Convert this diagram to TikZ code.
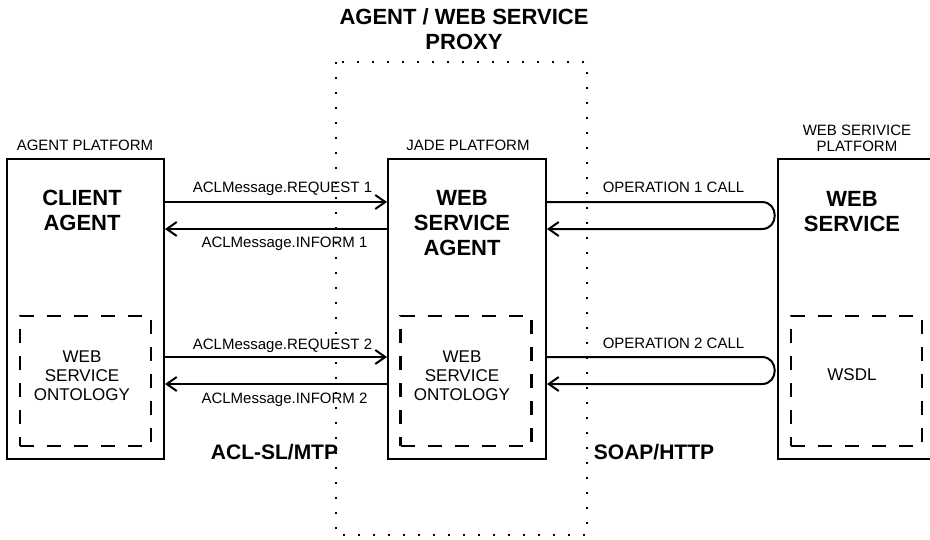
\documentclass[tikz,border=0pt]{standalone}
\usepackage{fontspec}
\setmainfont{Liberation Sans}
\usetikzlibrary{arrows.meta,calc}
\begin{document}
\begin{tikzpicture}[x=1pt,y=-1pt,
  mainbox/.style={draw,line width=2pt,minimum width=157pt,minimum height=300pt,inner sep=0pt},
  dashbox/.style={draw,line width=2.5pt,dash pattern=on 14pt off 13pt,minimum width=131pt,minimum height=130pt,inner sep=0pt},
  bigtxt/.style={font=\fontsize{22}{25}\selectfont\bfseries,align=center,inner sep=0pt},
  midtxt/.style={font=\fontsize{17}{19}\selectfont,align=center,inner sep=0pt},
  smalltxt/.style={font=\fontsize{15}{16}\selectfont,align=center,inner sep=0pt},
  lbl/.style={font=\fontsize{15}{16}\selectfont,anchor=base,inner sep=0pt},
  proto/.style={font=\fontsize{21}{24}\selectfont\bfseries,anchor=base,inner sep=0pt},
  msg/.style={line width=2pt,-{Straight Barb[length=10pt,width=14pt]}},
  proxyline/.style={line width=2.2pt,dash pattern=on 2.2pt off 12.8pt}
]
\clip (0,0) rectangle (930,539);
% proxy region
\draw[proxyline] (336,62) rectangle (587,535);
\node[bigtxt] (title) at (464,29.5) {AGENT / WEB SERVICE\\PROXY};
% main boxes
\node[mainbox] (client) at (85.5,309) {};
\node[mainbox,minimum width=158pt] (wsa) at (467,309) {};
\node[mainbox,minimum width=160pt] (ws) at (858,309) {};
% dashed boxes
\node[dashbox] (ont1) at (85.5,381) {};
\node[dashbox] (ont2) at (466,381) {};
\node[dashbox] (wsdl) at (856.5,381) {};
% box texts
\node[bigtxt] (clientt) at (82,210.5) {CLIENT\\AGENT};
\node[bigtxt] (wsat) at (462,223) {WEB\\SERVICE\\AGENT};
\node[bigtxt] (wst) at (852,211.5) {WEB\\SERVICE};
\node[midtxt] (ont1t) at (82,376) {WEB\\SERVICE\\ONTOLOGY};
\node[midtxt] (ont2t) at (462,376) {WEB\\SERVICE\\ONTOLOGY};
\node[midtxt] (wsdlt) at (852,375) {WSDL};
% platform labels
\node[smalltxt] (p1) at (85,145) {AGENT PLATFORM};
\node[smalltxt] (p2) at (468,145) {JADE PLATFORM};
\node[smalltxt] (p3) at (857,138) {WEB SERIVICE\\PLATFORM};
% rows
\coordinate (r1) at (0,202);
\coordinate (r2) at (0,229);
\coordinate (r3) at (0,357);
\coordinate (r4) at (0,384);
% ACL messages
\draw[msg] (client.east |- r1) -- (wsa.west |- r1);
\draw[msg] (wsa.west |- r2) -- (client.east |- r2);
\draw[msg] (client.east |- r3) -- (wsa.west |- r3);
\draw[msg] (wsa.west |- r4) -- (client.east |- r4);
\node[lbl] (l1) at (282.5,192.4) {ACLMessage.REQUEST 1};
\node[lbl] (l2) at (284.5,247.4) {ACLMessage.INFORM 1};
\node[lbl] (l3) at (282.5,349.4) {ACLMessage.REQUEST 2};
\node[lbl] (l4) at (284.5,403.4) {ACLMessage.INFORM 2};
% operation calls
\draw[msg] (wsa.east |- r1) -- ($(ws.west |- r1)+(-15,0)$)
  .. controls ($(ws.west |- r1)+(2,0)$) and ($(ws.west |- r2)+(2,0)$) .. ($(ws.west |- r2)+(-15,0)$)
  -- (wsa.east |- r2);
\draw[msg] (wsa.east |- r3) -- ($(ws.west |- r3)+(-15,0)$)
  .. controls ($(ws.west |- r3)+(2,0)$) and ($(ws.west |- r4)+(2,0)$) .. ($(ws.west |- r4)+(-15,0)$)
  -- (wsa.east |- r4);
\node[lbl] (o1) at (673.5,192.4) {OPERATION 1 CALL};
\node[lbl] (o2) at (673.5,348.4) {OPERATION 2 CALL};
% protocols
\node[proto] (acl) at (274.5,459.5) {ACL-SL/MTP};
\node[proto] (soap) at (654,459.5) {SOAP/HTTP};
\end{tikzpicture}
\end{document}
